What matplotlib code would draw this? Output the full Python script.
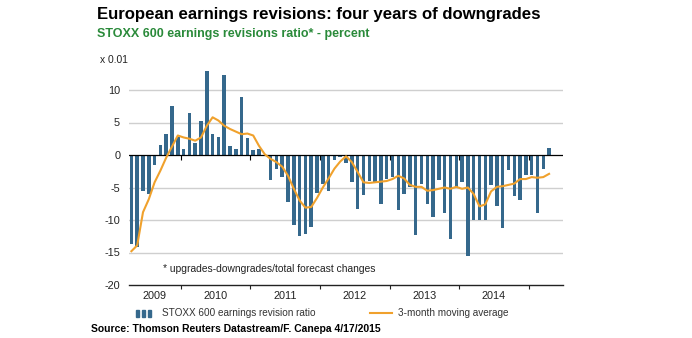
import matplotlib.pyplot as plt
from matplotlib.patches import Rectangle
from matplotlib.lines import Line2D

plt.rcParams['font.family'] = ['Liberation Sans', 'DejaVu Sans']

# monthly values, Apr 2009 .. Apr 2015 (x 0.01)
revision_ratio = [
    -13.7, -14.1, -5.5, -6.0, -1.6, 1.6, 3.2, 7.6, 2.7,                      # 2009
    0.9, 6.5, 1.8, 5.2, 13.0, 3.2, 2.7, 12.3, 1.4, 1.0, 8.9, 2.6,            # 2010
    0.8, 1.0, -0.2, -3.8, -2.2, -3.4, -7.2, -10.8, -12.5, -12.1, -11.0, -5.9,  # 2011
    -4.4, -5.6, -0.8, -0.3, -1.3, -4.2, -8.3, -6.1, -4.0, -4.1, -7.5, -3.7,  # 2012
    -3.4, -8.5, -6.0, -4.9, -12.3, -4.4, -7.6, -9.6, -3.9, -8.9, -12.9, -4.9,  # 2013
    -4.2, -15.5, -10.0, -10.0, -10.0, -4.6, -7.9, -11.3, -2.3, -6.3, -6.9, -3.1,  # 2014
    -3.0, -8.9, -2.2, 1.1,                                                   # 2015
]
moving_avg = [
    -14.8, -13.9, -8.8, -6.8, -4.2, -2.4, -0.4, 1.3, 3.0,
    2.7, 2.5, 2.2, 2.7, 4.5, 5.8, 5.3, 4.5, 4.0, 3.6, 3.2, 3.3,
    3.0, 1.4, 0.1, -0.6, -1.1, -1.8, -3.2, -5.2, -7.0, -8.1, -8.0, -6.6,
    -5.0, -3.6, -2.1, -1.0, -0.2, -1.1, -2.6, -4.2, -4.3, -4.2, -4.1, -4.0,
    -3.7, -3.2, -3.6, -4.6, -4.9, -4.9, -5.5, -5.4, -5.2, -5.0, -5.2, -4.9,
    -5.2, -5.0, -6.0, -7.9, -7.6, -5.6, -4.9, -4.8, -4.6, -4.4, -3.7, -3.7,
    -3.4, -3.5, -3.4, -2.9,
]
years = ['2009', '2010', '2011', '2012', '2013', '2014']
year_starts = [8.5, 20.5, 32.5, 44.5, 56.5, 68.5]
year_centers = [4, 14.5, 26.5, 38.5, 50.5, 62.5]
y_ticks = [10, 5, 0, -5, -10, -15, -20]

bar_color = '#35688c'
line_color = '#f0a12c'

x = list(range(len(revision_ratio)))

fig = plt.figure(figsize=(6.92, 3.38), dpi=100)
ax = fig.add_axes([128.5 / 692, 53 / 338, 434.5 / 692, 227.5 / 338])

ax.bar(x, revision_ratio, width=0.6, color=bar_color, zorder=2)
ax.plot(x, moving_avg, color=line_color, lw=1.5, zorder=4)

ax.set_xlim(-0.5, 74.4)
ax.set_ylim(-20, 15)

# grid lines and zero line
for y in [10, 5, -5, -10, -15]:
    ax.axhline(y, color='#cfcfcf', lw=1, zorder=0)
ax.axhline(0, color='black', lw=0.9, zorder=3)
ax.vlines(year_starts, -0.7, 0, color='black', lw=0.8, zorder=3)

for side in ['left', 'right', 'top']:
    ax.spines[side].set_visible(False)
ax.spines['bottom'].set_color('#222222')
ax.spines['bottom'].set_linewidth(1)

ax.set_yticks(y_ticks)
ax.set_yticklabels([str(v) for v in y_ticks])
ax.tick_params(axis='y', length=0, pad=6, labelsize=7.8, labelcolor='#222222')

ax.set_xticks(year_starts)
ax.set_xticklabels([])
ax.tick_params(axis='x', which='major', length=3, direction='out', color='#222222')
ax.set_xticks(year_centers, minor=True)
ax.set_xticklabels(years, minor=True)
ax.tick_params(axis='x', which='minor', length=0, pad=4, labelsize=7.8, labelcolor='#222222')

ax.text(5.4, -17.6, '* upgrades-downgrades/total forecast changes',
        fontsize=7.4, color='#222222', va='center')

# titles
fig.text(97 / 692, 1 - 14 / 338, 'European earnings revisions: four years of downgrades',
         fontsize=12.1, fontweight='bold', color='black', va='center')
fig.text(97 / 692, 1 - 34 / 338, 'STOXX 600 earnings revisions ratio* - percent',
         fontsize=9, fontweight='bold', color='#2a8a3a', va='center')
fig.text(100 / 692, 1 - 60 / 338, 'x 0.01', fontsize=7.4, color='#222222', va='center')

# legend
ly = 1 - 313 / 338
for bx in [136, 142, 148]:
    fig.patches.append(Rectangle((bx / 692, ly - 3.5 / 338), 2.5 / 692, 7 / 338,
                                 transform=fig.transFigure, color=bar_color))
fig.text(162 / 692, ly, 'STOXX 600 earnings revision ratio', fontsize=7.2,
         color='#333333', va='center')
fig.lines.append(Line2D([370 / 692, 392 / 692], [ly, ly], transform=fig.transFigure,
                        color=line_color, lw=1.5))
fig.text(398 / 692, ly, '3-month moving average', fontsize=7.2,
         color='#333333', va='center')

fig.text(91 / 692, 1 - 329 / 338, 'Source: Thomson Reuters Datastream/F. Canepa 4/17/2015',
         fontsize=7.45, fontweight='bold', color='black', va='center')

fig.savefig('out.png', dpi=100)
